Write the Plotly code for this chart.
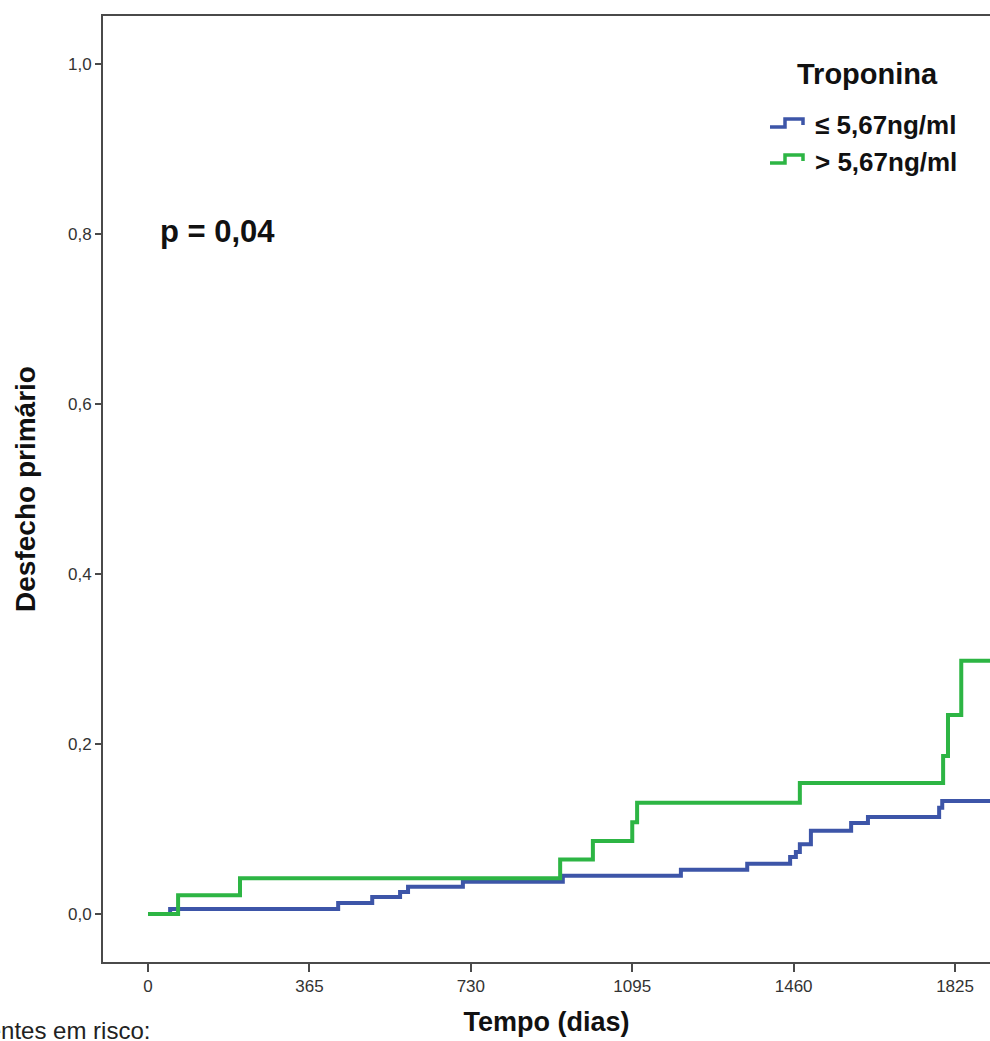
import plotly.graph_objects as go

# ---- data ----
days_low = [0, 50, 430, 507, 570, 588, 712, 938, 1205, 1355, 1452, 1465, 1474, 1499, 1590, 1628, 1789, 1796, 2000]
event_low = [0, 0.006, 0.013, 0.020, 0.026, 0.032, 0.038, 0.045, 0.052, 0.059, 0.067, 0.073, 0.082, 0.098, 0.107, 0.114, 0.125, 0.133, 0.133]

days_high = [0, 68, 208, 932, 1006, 1095, 1106, 1474, 1798, 1809, 1839, 2000]
event_high = [0, 0.022, 0.042, 0.064, 0.086, 0.108, 0.131, 0.154, 0.186, 0.234, 0.298, 0.298]

x_ticks = [0, 365, 730, 1095, 1460, 1825]
x_tick_labels = ["0", "365", "730", "1095", "1460", "1825"]
y_ticks = [0.0, 0.2, 0.4, 0.6, 0.8, 1.0]
y_tick_labels = ["0,0", "0,2", "0,4", "0,6", "0,8", "1,0"]

series_names = ["≤ 5,67ng/ml", "> 5,67ng/ml"]
legend_title = "Troponina"

BLUE = "#3D55A8"
GREEN = "#2DB544"
AXIS = "#4a4a4a"
FONT = "Liberation Sans, Arial, sans-serif"

W, H = 990, 1041
ML, MR, MT, MB = 103, 0, 16, 79
PW, PH = W - ML - MR, H - MT - MB


def px(x):
    return (x - ML) / PW


def py(y):
    return (H - MB - y) / PH


fig = go.Figure()
fig.add_trace(go.Scatter(x=days_low, y=event_low, mode="lines", line_shape="hv",
                         line=dict(color=BLUE, width=4), name=series_names[0], showlegend=False))
fig.add_trace(go.Scatter(x=days_high, y=event_high, mode="lines", line_shape="hv",
                         line=dict(color=GREEN, width=4), name=series_names[1], showlegend=False))

# custom legend (step-shaped icons like the original)
shapes = []
for dy, col in [(0, BLUE), (36, GREEN)]:
    pts = [(770, 127 + dy), (785, 127 + dy), (785, 119 + dy), (803, 119 + dy), (803, 125 + dy)]
    path = "M " + " L ".join(f"{px(a):.5f},{py(b):.5f}" for a, b in pts)
    shapes.append(dict(type="path", xref="paper", yref="paper", path=path,
                       line=dict(color=col, width=3.5)))

annotations = [
    dict(text="<b>" + legend_title + "</b>", xref="paper", yref="paper", x=px(867), y=py(74),
         xanchor="center", yanchor="middle", showarrow=False, font=dict(size=29, color="#111", family=FONT)),
    dict(text="<b>" + series_names[0] + "</b>", xref="paper", yref="paper", x=px(813), y=py(125),
         xanchor="left", yanchor="middle", showarrow=False, font=dict(size=26, color="#111", family=FONT)),
    dict(text="<b>" + series_names[1] + "</b>", xref="paper", yref="paper", x=px(813), y=py(162),
         xanchor="left", yanchor="middle", showarrow=False, font=dict(size=26, color="#111", family=FONT)),
    dict(text="<b>p = 0,04</b>", xref="paper", yref="paper", x=px(158), y=py(231),
         xanchor="left", yanchor="middle", showarrow=False, font=dict(size=31, color="#111", family=FONT)),
    dict(text="Pacientes em risco:", xref="paper", yref="paper", x=px(152), y=py(1030),
         xanchor="right", yanchor="middle", showarrow=False, font=dict(size=24, color="#222", family=FONT)),
]

fig.update_layout(
    width=W, height=H,
    margin=dict(l=ML, r=MR, t=MT, b=MB),
    paper_bgcolor="white", plot_bgcolor="white",
    shapes=shapes, annotations=annotations,
    font=dict(family=FONT, color="#222"),
    xaxis=dict(range=[-101.8, 1904], tickvals=x_ticks, ticktext=x_tick_labels,
               showgrid=False, zeroline=False, showline=True, linecolor=AXIS, linewidth=2,
               mirror=True, ticks="outside", ticklen=8, tickwidth=2, tickcolor=AXIS,
               tickfont=dict(size=17, color="#333", family=FONT),
               title=dict(text="<b>Tempo (dias)</b>", font=dict(size=27, color="#111", family=FONT), standoff=17)),
    yaxis=dict(range=[-0.0565, 1.0565], tickvals=y_ticks, ticktext=y_tick_labels,
               showgrid=False, zeroline=False, showline=True, linecolor=AXIS, linewidth=2,
               mirror=False, ticks="outside", ticklen=6, tickwidth=2, tickcolor=AXIS,
               tickfont=dict(size=17, color="#333", family=FONT),
               title=dict(text="<b>Desfecho primário</b>", font=dict(size=28, color="#111", family=FONT), standoff=24)),
)

fig.write_html("out.html")
